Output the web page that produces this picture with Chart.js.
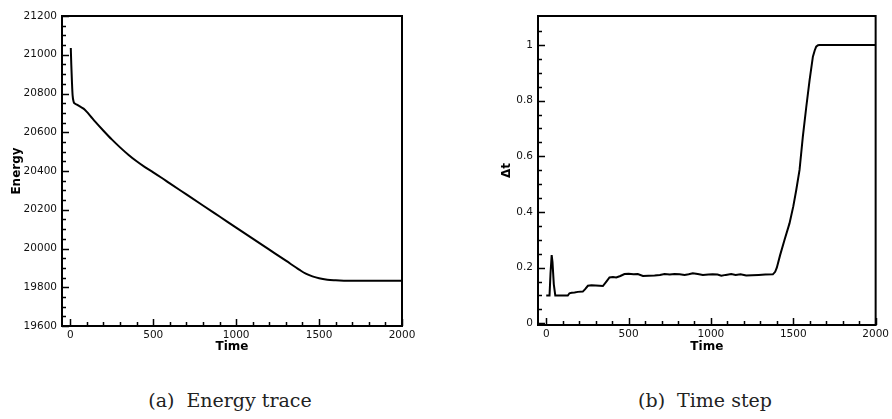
<!DOCTYPE html>
<html>
<head>
<meta charset="utf-8">
<script src="https://cdn.jsdelivr.net/npm/chart.js@4"></script>
<style>
  html, body { margin: 0; padding: 0; background: #fff; }
  body { width: 892px; height: 419px; position: relative; overflow: hidden; }
  .wrap { position: absolute; top: 0; height: 370px; }
  .cap { position: absolute; top: 389px; font-family: "DejaVu Serif", serif; font-size: 19px; color: #222; white-space: nowrap; transform: translateX(-50%); }
  .cap .g { display: inline-block; width: 12px; }
</style>
</head>
<body>
<div class="wrap" style="left:0;width:420px"><canvas id="c1" width="420" height="370"></canvas></div>
<div class="wrap" style="left:480px;width:412px"><canvas id="c2" width="412" height="370"></canvas></div>
<div class="cap" style="left:230px">(a)<span class="g"></span>Energy trace</div>
<div class="cap" style="left:705px">(b)<span class="g"></span>Time step</div>
<script>
// ---------- data ----------
const energyTime = [3, 6, 10, 14, 20, 28, 40, 60, 80, 100, 125, 150, 200, 250, 300, 350, 400, 450, 500, 550, 600, 700, 800, 900, 1000, 1100, 1200, 1300, 1380, 1420, 1460, 1500, 1550, 1600, 1650, 1700, 2000];
const energyValues = [21035, 20950, 20860, 20790, 20758, 20748, 20742, 20732, 20722, 20705, 20680, 20655, 20608, 20563, 20522, 20484, 20450, 20420, 20393, 20365, 20336, 20279, 20222, 20165, 20108, 20051, 19994, 19937, 19891, 19870, 19856, 19846, 19839, 19836, 19834, 19833, 19833];

const dtTime = [0, 20, 26, 33, 38, 46, 55, 131, 141, 155, 172, 192, 222, 235, 253, 275, 300, 324, 344, 365, 384, 405, 425, 450, 475, 500, 530, 556, 587, 620, 658, 690, 718, 750, 779, 810, 840, 865, 890, 920, 951, 985, 1010, 1040, 1063, 1090, 1123, 1150, 1180, 1214, 1250, 1290, 1330, 1376, 1390, 1400, 1420, 1447, 1477, 1500, 1518, 1538, 1558, 1579, 1599, 1619, 1630, 1639, 1650, 1659, 2000];
const dtValues = [0.1, 0.1, 0.18, 0.245, 0.22, 0.14, 0.1, 0.1, 0.108, 0.11, 0.111, 0.113, 0.114, 0.122, 0.135, 0.137, 0.136, 0.135, 0.134, 0.15, 0.165, 0.166, 0.165, 0.17, 0.177, 0.178, 0.176, 0.177, 0.170, 0.171, 0.172, 0.174, 0.177, 0.175, 0.177, 0.176, 0.174, 0.176, 0.180, 0.177, 0.174, 0.175, 0.176, 0.175, 0.171, 0.174, 0.177, 0.174, 0.176, 0.172, 0.173, 0.174, 0.175, 0.176, 0.185, 0.2, 0.245, 0.3, 0.359, 0.42, 0.479, 0.551, 0.671, 0.778, 0.874, 0.958, 0.98, 0.994, 0.999, 1.0, 1.0];

const timeTicks = [0, 500, 1000, 1500, 2000];
const timeMinor = [100, 200, 300, 400, 600, 700, 800, 900, 1100, 1200, 1300, 1400, 1600, 1700, 1800, 1900];
const energyTicks = [19600, 19800, 20000, 20200, 20400, 20600, 20800, 21000, 21200];
const energyMinor = [19650, 19700, 19750, 19850, 19900, 19950, 20050, 20100, 20150, 20250, 20300, 20350, 20450, 20500, 20550, 20650, 20700, 20750, 20850, 20900, 20950, 21050, 21100, 21150];
const dtTicks = [0, 0.2, 0.4, 0.6, 0.8, 1];
const dtTickLabels = ['0', '0.2', '0.4', '0.6', '0.8', '1'];
const dtMinor = [0.05, 0.1, 0.15, 0.25, 0.3, 0.35, 0.45, 0.5, 0.55, 0.65, 0.7, 0.75, 0.85, 0.9, 0.95, 1.05];

// ---------- helpers ----------
const tickFont = { family: 'DejaVu Sans', size: 10.5 };
const titleFont = { family: 'DejaVu Sans', size: 12, weight: 'bold' };

const framePlugin = {
  id: 'frame',
  afterDatasetsDraw(chart, args, opts) {
    const ctx = chart.ctx, a = chart.chartArea;
    const xs = chart.scales.x, ys = chart.scales.y;
    ctx.save();
    ctx.strokeStyle = '#000';
    ctx.lineWidth = 1.5;
    ctx.beginPath();
    opts.xMajor.forEach(v => { const p = Math.round(xs.getPixelForValue(v)) + 0.5; ctx.moveTo(p, a.bottom); ctx.lineTo(p, a.bottom - 7); });
    opts.xMinor.forEach(v => { const p = Math.round(xs.getPixelForValue(v)) + 0.5; ctx.moveTo(p, a.bottom); ctx.lineTo(p, a.bottom - 4); });
    opts.yMajor.forEach(v => { const p = Math.round(ys.getPixelForValue(v)) + 0.5; ctx.moveTo(a.left, p); ctx.lineTo(a.left + 7, p); });
    opts.yMinor.forEach(v => { const p = Math.round(ys.getPixelForValue(v)) + 0.5; ctx.moveTo(a.left, p); ctx.lineTo(a.left + 4, p); });
    ctx.stroke();
    ctx.lineWidth = 2;
    ctx.strokeRect(a.left, a.top, a.right - a.left, a.bottom - a.top);
    ctx.restore();
  }
};

function makeChart(id, xData, yData, cfg) {
  return new Chart(document.getElementById(id), {
    type: 'line',
    data: {
      datasets: [{
        data: xData.map((t, i) => ({ x: t, y: yData[i] })),
        borderColor: '#000',
        borderWidth: 2,
        pointRadius: 0,
        tension: 0,
        cubicInterpolationMode: cfg.interp,
        fill: false
      }]
    },
    options: {
      responsive: false,
      animation: false,
      devicePixelRatio: 1,
      layout: { padding: { top: 16, right: cfg.padRight, left: 0, bottom: 0 } },
      plugins: {
        legend: { display: false },
        tooltip: { enabled: false },
        frame: cfg.frame
      },
      scales: {
        x: {
          type: 'linear',
          min: -50, max: 2000,
          grid: { display: false, drawTicks: false },
          border: { display: false },
          afterBuildTicks: s => { s.ticks = timeTicks.map(v => ({ value: v })); },
          afterFit: s => { s.height = cfg.xHeight; },
          ticks: { font: tickFont, color: '#111', padding: 3, maxRotation: 0, autoSkip: false, callback: v => String(v) },
          title: { display: true, text: 'Time', font: titleFont, color: '#000', padding: { top: 0, bottom: cfg.xTitlePad } }
        },
        y: {
          type: 'linear',
          min: cfg.yMin, max: cfg.yMax,
          grid: { display: false, drawTicks: false },
          border: { display: false },
          afterBuildTicks: s => { s.ticks = cfg.yTicks.map(v => ({ value: v })); },
          afterFit: s => { s.width = cfg.yWidth; },
          ticks: { font: tickFont, color: '#111', padding: 5, autoSkip: false, callback: cfg.yLabel },
          title: { display: true, text: cfg.yTitle, font: titleFont, color: '#000', padding: { top: cfg.yTitlePad, bottom: 0 } }
        }
      }
    },
    plugins: [framePlugin]
  });
}

makeChart('c1', energyTime, energyValues, {
  interp: 'monotone',
  padRight: 18,
  xHeight: 44,
  xTitlePad: 16,
  yMin: 19600, yMax: 21200,
  yTicks: energyTicks,
  yLabel: v => String(v),
  yWidth: 62,
  yTitle: 'Energy',
  yTitlePad: 10,
  frame: { xMajor: timeTicks, xMinor: timeMinor, yMajor: energyTicks, yMinor: energyMinor }
});

makeChart('c2', dtTime, dtValues, {
  interp: 'default',
  padRight: 15,
  xHeight: 45,
  xTitlePad: 16,
  yMin: -0.006, yMax: 1.104,
  yTicks: dtTicks,
  yLabel: (v, i) => dtTickLabels[dtTicks.indexOf(v)] ?? String(v),
  yWidth: 58,
  yTitle: 'Δt',
  yTitlePad: 19.5,
  frame: { xMajor: timeTicks, xMinor: timeMinor, yMajor: dtTicks, yMinor: dtMinor }
});
</script>
</body>
</html>
